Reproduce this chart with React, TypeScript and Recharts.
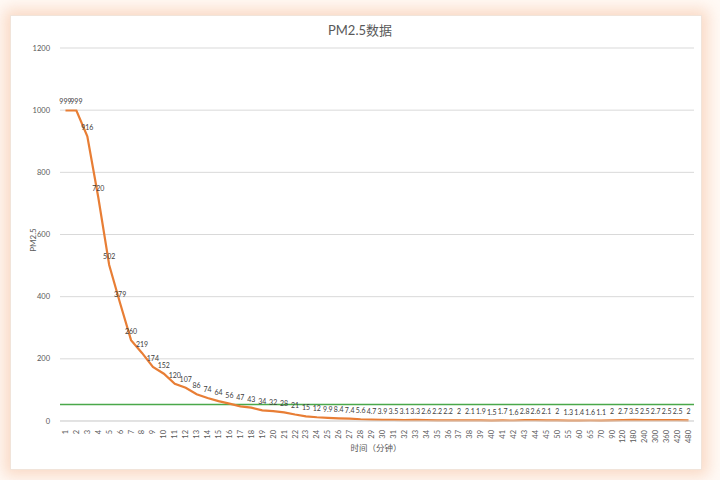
import React from "react";
import { LineChart, Line, XAxis, YAxis, CartesianGrid, ReferenceLine, LabelList } from "recharts";

const categories: string[] = [
  "1","2","3","4","5","6","7","8","9","10",
  "11","12","13","14","15","16","17","18","19","20",
  "21","22","23","24","25","26","27","28","29","30",
  "31","32","33","34","35","36","37","38","39","40",
  "41","42","43","44","45","50","55","60","65","70",
  "90","120","180","240","300","360","420","480",
];

const pm25: number[] = [
  999, 999, 916, 720, 502, 379, 260, 219, 174, 152,
  120, 107, 86, 74, 64, 56, 47, 43, 34, 32,
  28, 21, 15, 12, 9.9, 8.4, 7.4, 5.6, 4.7, 3.9,
  3.5, 3.1, 3.3, 2.6, 2.2, 2.2, 2, 2.1, 1.9, 1.5,
  1.7, 1.6, 2.8, 2.6, 2.1, 2, 1.3, 1.4, 1.6, 1.1,
  2, 2.7, 3.5, 2.5, 2.7, 2.5, 2.5, 2,
];

const yTicks: number[] = [0, 200, 400, 600, 800, 1000, 1200];
const threshold = 53;

const data = categories.map((c, i) => ({ t: c, v: pm25[i] }));

const FONT = "Lato, 'Noto Sans CJK SC', sans-serif";

const XTick = (props: any) => {
  const { x, y, payload } = props;
  return (
    <text
      x={x}
      y={y}
      transform={`rotate(-90 ${x} ${y})`}
      textAnchor="end"
      dominantBaseline="central"
      fontSize={7.5}
      fill="#595959"
      fontFamily={FONT}
    >
      {payload.value}
    </text>
  );
};

export default function App() {
  return (
    <div style={{ position: "absolute", left: 0, top: 0, width: 720, height: 480, background: "#fffaf6", overflow: "hidden" }}>
      <div
        style={{
          position: "absolute",
          left: 10,
          top: 15,
          width: 690,
          height: 453,
          background: "#ffffff",
          border: "1px solid #f1e4da",
          boxShadow: "0 0 14px 6px rgba(243,180,140,0.45)",
        }}
      />
      <div
        style={{
          position: "absolute",
          left: 0,
          width: 720,
          top: 20,
          textAlign: "center",
          fontSize: 13,
          color: "#595959",
          fontFamily: FONT,
        }}
      >
        PM2.5数据
      </div>
      <div
        style={{
          position: "absolute",
          left: 376 - 60,
          width: 120,
          top: 441,
          textAlign: "center",
          fontSize: 8.5,
          color: "#595959",
          fontFamily: FONT,
        }}
      >
        时间（分钟）
      </div>
      <div
        style={{
          position: "absolute",
          left: 33 - 30,
          top: 240 - 6,
          width: 60,
          height: 12,
          lineHeight: "12px",
          textAlign: "center",
          fontSize: 8,
          color: "#595959",
          fontFamily: FONT,
          transform: "rotate(-90deg)",
        }}
      >
        PM2.5
      </div>
      <div style={{ position: "absolute", left: 0, top: 0 }}>
        <LineChart
          width={720}
          height={480}
          data={data}
          margin={{ top: 48, right: 26, bottom: 0, left: 26 }}
        >
          <CartesianGrid vertical={false} stroke="#d9d9d9" strokeWidth={1} />
          <XAxis
            dataKey="t"
            scale="band"
            interval={0}
            height={59}
            tick={<XTick />}
            tickLine={false}
            axisLine={{ stroke: "#d9d9d9" }}
            tickMargin={3}
          />
          <YAxis
            domain={[0, 1200]}
            ticks={yTicks}
            width={34}
            tickLine={false}
            axisLine={false}
            tick={{ fontSize: 7.5, fill: "#595959", fontFamily: FONT }}
            tickMargin={4}
          />
          <ReferenceLine y={threshold} stroke="#4aa84a" strokeWidth={1.5} />
          <Line
            type="linear"
            dataKey="v"
            stroke="#e87e35"
            strokeWidth={2.2}
            dot={false}
            isAnimationActive={false}
          >
            <LabelList dataKey="v" position="top" offset={6} fontSize={7} fill="#404040" fontFamily={FONT} />
          </Line>
        </LineChart>
      </div>
    </div>
  );
}
